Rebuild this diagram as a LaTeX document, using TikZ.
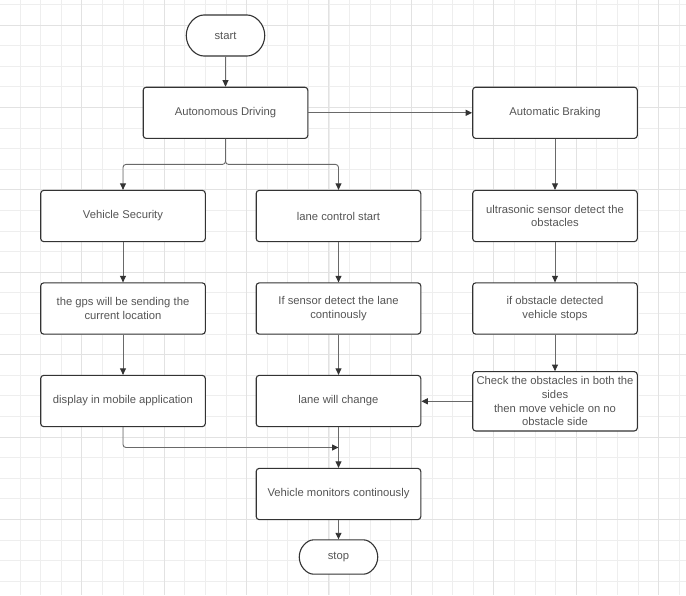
\documentclass[tikz,border=0pt]{standalone}
\usepackage{fontspec}
\setmainfont{Liberation Sans}
\usetikzlibrary{arrows.meta,calc,shapes.misc}
\definecolor{boxline}{RGB}{51,51,51}
\definecolor{linkgray}{RGB}{105,105,105}
\definecolor{labelgray}{RGB}{85,85,85}
\definecolor{gridminor}{RGB}{238,238,238}
\definecolor{gridmajor}{RGB}{226,226,226}

\begin{document}
\begin{tikzpicture}[x=1pt, y=-1pt, node distance=92.5pt,
    procbox/.style={draw=boxline, line width=1.1pt, rounded corners=3pt, fill=white,
      minimum width=164.6pt, minimum height=51.2pt, inner sep=2pt, align=center,
      text=labelgray, font=\fontsize{11.25pt}{13.7pt}\selectfont},
    terminal/.style={procbox, rounded rectangle, minimum width=82.5pt, minimum height=41pt},
    link/.style={draw=linkgray, line width=0.9pt, -{Triangle[length=6.5pt,width=6pt,color=boxline]}}]
  \useasboundingbox (0,0) rectangle (686,595);
  % background grid
  \fill[white] (0,0) rectangle (686,595);
  \foreach \gx in {0,...,33}
    \draw[gridminor, line width=0.8pt] ({-0.7+20.6*\gx},0) -- ({-0.7+20.6*\gx},595);
  \foreach \gy in {0,...,29}
    \draw[gridminor, line width=0.8pt] (0,{4.4+20.6*\gy}) -- (686,{4.4+20.6*\gy});
  \foreach \gx in {0,...,7}
    \draw[gridmajor, line width=0.9pt] ({81.7+82.4*\gx},0) -- ({81.7+82.4*\gx},595);
  \foreach \gy in {0,...,6}
    \draw[gridmajor, line width=0.9pt] (0,{25+82.4*\gy}) -- (686,{25+82.4*\gy});

  % nodes
  \node (start) [terminal] at (225.5,35.5) {start};
  \node (autodrive) [procbox, below of=start, node distance=77.3pt] {Autonomous Driving};
  \node (braking) [procbox] at (555,112.8) {Automatic Braking};
  \node (security) [procbox] at (123,216) {Vehicle Security};
  \node (lanestart) [procbox, right of=security, node distance=215.5pt] {lane control start};
  \node (ultrasonic) [procbox, below of=braking, node distance=103.2pt] {ultrasonic sensor detect the\\obstacles};
  \node (gps) [procbox, below of=security] {the gps will be sending the\\current location};
  \node (lanesensor) [procbox, below of=lanestart] {If sensor detect the lane\\continously};
  \node (obstacle) [procbox, below of=ultrasonic] {if obstacle detected\\vehicle stops};
  \node (display) [procbox, below of=gps] {display in mobile application};
  \node (lanechange) [procbox, below of=lanesensor] {lane will change};
  \node (checksides) [procbox, below of=obstacle, minimum height=59.3pt, yshift=-0.3pt] {Check the obstacles in both the\\sides\\then move vehicle on no\\obstacle side};
  \node (monitors) [procbox, below of=lanechange, node distance=93pt] {Vehicle monitors continously};
  \node (stop) [terminal, below of=monitors, node distance=63pt, minimum height=34.3pt] {stop};

  \coordinate (split) at ($(autodrive.south)!0.5!(autodrive.south |- lanestart.north)$);
  \coordinate (merge) at ($(lanechange.south)!0.5!(monitors.north)$);

  % connectors
  \draw[link] (start) -- (autodrive);
  \draw[link] (autodrive) -- (braking);
  \draw[link, rounded corners=3pt] (autodrive.south) -- (split) -| (security.north);
  \draw[link, rounded corners=3pt] (autodrive.south) -- (split) -| (lanestart.north);
  \draw[link] (security) -- (gps);
  \draw[link] (gps) -- (display);
  \draw[link] (lanestart) -- (lanesensor);
  \draw[link] (lanesensor) -- (lanechange);
  \draw[link] (braking) -- (ultrasonic);
  \draw[link] (ultrasonic) -- (obstacle);
  \draw[link] (obstacle) -- (checksides);
  \draw[link] (checksides.west) -- (checksides.west -| lanechange.east);
  \draw[link, rounded corners=3pt] (display.south) |- (merge);
  \draw[link] (lanechange) -- (monitors);
  \draw[link] (monitors) -- (stop);
\end{tikzpicture}
\end{document}
